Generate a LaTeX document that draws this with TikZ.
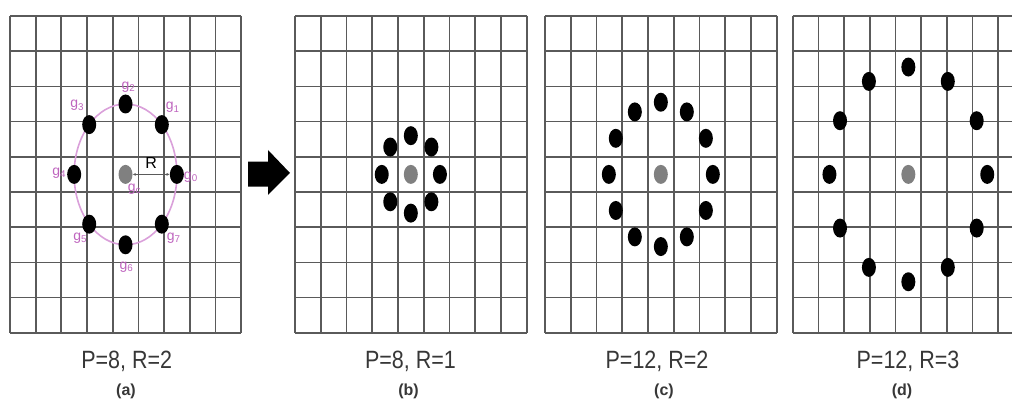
\documentclass[tikz,border=0pt]{standalone}
\usepackage{fontspec}
\setmainfont{Liberation Sans}
\newfontfamily\capfont[FakeStretch=0.86]{Liberation Sans}
\usetikzlibrary{arrows.meta,shapes.geometric,calc}
\definecolor{gridgray}{RGB}{90,90,90}
\definecolor{ringviolet}{RGB}{218,160,218}
\definecolor{nbrviolet}{RGB}{190,100,190}
\definecolor{centergray}{RGB}{128,128,128}
\definecolor{captext}{RGB}{55,55,55}
\tikzset{
  gridline/.style={draw=gridgray,line width=1.7pt},
  dot/.style={ellipse,fill=black,minimum width=14pt,minimum height=19pt,inner sep=0pt},
  centerdot/.style={dot,fill=centergray},
  ring/.style={draw=ringviolet,line width=1.6pt},
  nbr/.style={text=nbrviolet,font=\fontsize{14}{15}\selectfont,inner sep=0pt},
  rarrow/.style={{Latex[length=3pt,width=3pt]}-{Latex[length=3pt,width=3pt]},draw=gridgray,line width=1pt},
  params/.style={text=captext,font=\capfont\fontsize{25}{26}\selectfont,anchor=base,inner sep=0pt},
  tag/.style={text=captext,font=\bfseries\fontsize{16}{17}\selectfont,inner sep=0pt},
  bigarrow/.style={fill=black}
}
\newcommand{\lbpgrid}{%
  \foreach \k in {0,...,9} {
    \draw[gridline] (\k,0) -- (\k,9);
    \draw[gridline] (0,\k) -- (9,\k);
  }}

\begin{document}
\begin{tikzpicture}[x=1pt,y=1pt]
  \useasboundingbox (0,0) rectangle (1012,401);
  \clip (0,0) rectangle (1012,401);

  % (a) P=8, R=2
  \begin{scope}[shift={(10pt,385pt)},x=25.67pt,y=-35.2pt]
    \lbpgrid
    \draw[ring] (4.5,4.5) ellipse [x radius=51.4pt,y radius=70.4pt];
    \node[centerdot] (ac) at (4.5,4.5) {};
    \foreach \i in {0,...,7}
      \node[dot] (a\i) at ({4.5+2*cos(45*\i)},{4.5-2*sin(45*\i)}) {};
    \draw[rarrow] (ac) -- (a0) node[midway,above=2pt,text=black,font=\fontsize{16}{17}\selectfont] (rtext) {R};
    \node[nbr] (g0) at ($(a0)+(14pt,-3pt)$) {g\textsubscript{0}};
    \node[nbr] (g1) at ($(a1)+(11pt,17pt)$) {g\textsubscript{1}};
    \node[nbr] (g2) at ($(a2)+(3pt,17pt)$) {g\textsubscript{2}};
    \node[nbr] (g3) at ($(a3)+(-12pt,19pt)$) {g\textsubscript{3}};
    \node[nbr] (g4) at ($(a4)+(-15pt,1pt)$) {g\textsubscript{4}};
    \node[nbr] (g5) at ($(a5)+(-9pt,-14pt)$) {g\textsubscript{5}};
    \node[nbr] (g6) at ($(a6)+(1pt,-22pt)$) {g\textsubscript{6}};
    \node[nbr] (g7) at ($(a7)+(12pt,-14pt)$) {g\textsubscript{7}};
    \node[nbr] (gc) at ($(ac)+(9pt,-15pt)$) {g\textsubscript{c}};
  \end{scope}

  % arrow between (a) and (b)
  \path[bigarrow] (248,401-161.7) -- (268,401-161.7) -- (268,401-150) -- (290,401-173)
    -- (268,401-195) -- (268,401-186.7) -- (248,401-186.7) -- cycle;

  % (b) P=8, R=1
  \begin{scope}[shift={(295pt,385pt)},x=25.74pt,y=-35.2pt]
    \lbpgrid
    \node[centerdot] (bc) at (4.5,4.5) {};
    \foreach \i in {0,...,7}
      \node[dot] (b\i) at ({4.5+1.13*cos(45*\i)},{4.5-1.1*sin(45*\i)}) {};
  \end{scope}

  % (c) P=12, R=2
  \begin{scope}[shift={(545pt,385pt)},x=25.74pt,y=-35.2pt]
    \lbpgrid
    \node[centerdot] (cc) at (4.5,4.5) {};
    \foreach \i in {0,...,11}
      \node[dot] (c\i) at ({4.5+2.02*cos(30*\i)},{4.5-2.05*sin(30*\i)}) {};
  \end{scope}

  % (d) P=12, R=3
  \begin{scope}[shift={(792.7pt,385pt)},x=25.7pt,y=-35.2pt]
    \lbpgrid
    \node[centerdot] (dc) at (4.5,4.5) {};
    \foreach \i in {0,...,11}
      \node[dot] (d\i) at ({4.5+3.07*cos(30*\i)},{4.5-3.05*sin(30*\i)}) {};
  \end{scope}

  % captions
  \node[params] (pa) at (126.7,32.7) {P=8, R=2};
  \node[params] (pb) at (410.5,32.7) {P=8, R=1};
  \node[params] (pc) at (657,32.7) {P=12, R=2};
  \node[params] (pd) at (908,32.7) {P=12, R=3};
  \node[tag] (ta) at (126,9.5) {(a)};
  \node[tag] (tb) at (408.6,9.5) {(b)};
  \node[tag] (tc) at (664,9.5) {(c)};
  \node[tag] (td) at (902,9.5) {(d)};
\end{tikzpicture}
\end{document}
